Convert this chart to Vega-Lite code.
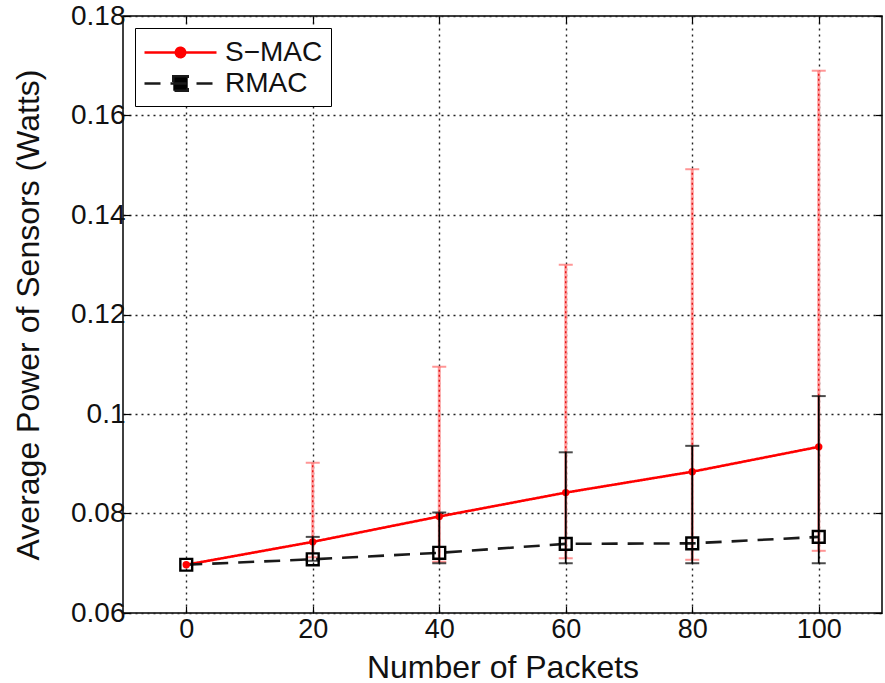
{
  "$schema": "https://vega.github.io/schema/vega-lite/v6.json",
  "width": 759,
  "height": 597,
  "autosize": {"type": "none"},
  "padding": {"left": 123, "top": 16, "right": 3, "bottom": 70},
  "background": "white",
  "config": {
    "view": {"stroke": "#000", "strokeWidth": 1.5},
    "font": "Liberation Sans"
  },
  "data": {
    "values": [
      {"n": 0, "series": "S−MAC", "mean": 0.0697, "lo": null, "hi": null},
      {"n": 20, "series": "S−MAC", "mean": 0.0743, "lo": 0.0712, "hi": 0.0902},
      {"n": 40, "series": "S−MAC", "mean": 0.0794, "lo": 0.0703, "hi": 0.1095},
      {"n": 60, "series": "S−MAC", "mean": 0.0842, "lo": 0.0710, "hi": 0.1300},
      {"n": 80, "series": "S−MAC", "mean": 0.0884, "lo": 0.0707, "hi": 0.1492},
      {"n": 100, "series": "S−MAC", "mean": 0.0934, "lo": 0.0725, "hi": 0.1690},
      {"n": 0, "series": "RMAC", "mean": 0.0697, "lo": null, "hi": null},
      {"n": 20, "series": "RMAC", "mean": 0.0708, "lo": 0.0705, "hi": 0.0753},
      {"n": 40, "series": "RMAC", "mean": 0.0721, "lo": 0.0700, "hi": 0.0802},
      {"n": 60, "series": "RMAC", "mean": 0.0739, "lo": 0.0700, "hi": 0.0923},
      {"n": 80, "series": "RMAC", "mean": 0.0740, "lo": 0.0700, "hi": 0.0936},
      {"n": 100, "series": "RMAC", "mean": 0.0753, "lo": 0.0700, "hi": 0.1036}
    ]
  },
  "resolve": {"axis": {"x": "independent", "y": "independent"}},
  "layer": [
    {
      "transform": [{"filter": "datum.series === 'S−MAC' && datum.lo != null"}],
      "mark": {"type": "rule", "color": "#ff9d9d", "strokeWidth": 3},
      "encoding": {
        "x": {"field": "n", "type": "quantitative", "scale": {"domain": [-10, 110], "nice": false, "zero": false},
          "axis": {"orient": "bottom", "values": [0, 20, 40, 60, 80, 100], "title": "Number of Packets", "grid": true, "gridColor": "#222", "gridDash": [2, 4], "gridWidth": 1.4, "gridOpacity": 1, "tickSize": -7, "tickColor": "#000", "tickWidth": 1.2, "domain": false, "labelFontSize": 27, "labelColor": "#111", "labelPadding": 10, "labelFont": "Liberation Sans", "titleFont": "Liberation Sans", "titleFontSize": 32, "titleFontWeight": "normal", "titleColor": "#111", "titlePadding": 10}},
        "y": {"field": "lo", "type": "quantitative", "scale": {"domain": [0.06, 0.18], "nice": false, "zero": false},
          "axis": {"orient": "left", "values": [0.06, 0.08, 0.1, 0.12, 0.14, 0.16, 0.18], "format": "~g", "title": "Average Power of Sensors (Watts)", "grid": true, "gridColor": "#222", "gridDash": [2, 4], "gridWidth": 1.4, "gridOpacity": 1, "tickSize": -7, "tickColor": "#000", "tickWidth": 1.2, "domain": false, "labelFontSize": 28, "labelColor": "#111", "labelPadding": 5, "labelFont": "Liberation Sans", "titleFont": "Liberation Sans", "titleFontSize": 32, "titleFontWeight": "normal", "titleColor": "#111", "titlePadding": 25}},
        "y2": {"field": "hi"}
      }
    },
    {
      "transform": [{"filter": "datum.series === 'S−MAC' && datum.lo != null"}],
      "mark": {"type": "rule", "color": "#e00000", "strokeWidth": 1.2, "strokeDash": [2, 3]},
      "encoding": {
        "x": {"field": "n", "type": "quantitative", "axis": {"orient": "top", "values": [0, 20, 40, 60, 80, 100], "labels": false, "title": null, "grid": false, "tickSize": -7, "tickColor": "#000", "tickWidth": 1.2, "domain": false}},
        "y": {"field": "lo", "type": "quantitative", "axis": {"orient": "right", "values": [0.06, 0.08, 0.1, 0.12, 0.14, 0.16, 0.18], "labels": false, "title": null, "grid": false, "tickSize": -7, "tickColor": "#000", "tickWidth": 1.2, "domain": false}},
        "y2": {"field": "hi"}
      }
    },
    {
      "transform": [{"filter": "datum.series === 'S−MAC' && datum.lo != null"}, {"fold": ["lo", "hi"], "as": ["end", "v"]}],
      "mark": {"type": "tick", "orient": "horizontal", "color": "#ff6a6a", "size": 14, "thickness": 2},
      "encoding": {
        "x": {"field": "n", "type": "quantitative", "axis": null},
        "y": {"field": "v", "type": "quantitative", "axis": null}
      }
    },
    {
      "mark": {"type": "line", "strokeWidth": 2.6},
      "encoding": {
        "x": {"field": "n", "type": "quantitative", "axis": null},
        "y": {"field": "mean", "type": "quantitative", "axis": null},
        "color": {"field": "series", "type": "nominal", "scale": {"domain": ["S−MAC", "RMAC"], "range": ["#ff0000", "#1a1a1a"]},
          "legend": {"orient": "top-left", "offset": 12, "title": null, "strokeColor": "#000", "fillColor": "white", "padding": 8, "rowPadding": 0, "labelFontSize": 28, "labelFont": "Liberation Sans", "labelColor": "#111", "labelOffset": 49, "symbolType": "stroke", "symbolSize": 900, "symbolStrokeWidth": 2.6,
            "encode": {"symbols": {"update": {
              "shape": {"signal": "datum.value === 'S−MAC' ? 'M-1,0L3.8,0M1.71,0A0.31,0.31,0,1,1,1.09,0A0.31,0.31,0,1,1,1.71,0Z' : 'M-1,0L3.8,0M0.92,-0.48L1.88,-0.48L1.88,0.48L0.92,0.48Z'"},
              "fill": {"signal": "datum.value === 'S−MAC' ? '#ff0000' : '#000000'"}
            }}}}},
        "strokeDash": {"field": "series", "type": "nominal", "scale": {"domain": ["S−MAC", "RMAC"], "range": [[1, 0], [16, 10]]}, "legend": null}
      }
    },
    {
      "transform": [{"filter": "datum.series === 'S−MAC'"}],
      "mark": {"type": "point", "shape": "circle", "filled": true, "color": "#ff0000", "size": 55, "opacity": 1},
      "encoding": {
        "x": {"field": "n", "type": "quantitative", "axis": null},
        "y": {"field": "mean", "type": "quantitative", "axis": null}
      }
    },
    {
      "transform": [{"filter": "datum.series === 'RMAC' && datum.lo != null"}],
      "mark": {"type": "rule", "color": "#000", "strokeWidth": 1.8},
      "encoding": {
        "x": {"field": "n", "type": "quantitative", "axis": null},
        "y": {"field": "lo", "type": "quantitative", "axis": null},
        "y2": {"field": "hi"}
      }
    },
    {
      "transform": [{"filter": "datum.series === 'RMAC' && datum.lo != null"}, {"fold": ["lo", "hi"], "as": ["end", "v"]}],
      "mark": {"type": "tick", "orient": "horizontal", "color": "#000", "size": 14, "thickness": 2},
      "encoding": {
        "x": {"field": "n", "type": "quantitative", "axis": null},
        "y": {"field": "v", "type": "quantitative", "axis": null}
      }
    },
    {
      "transform": [{"filter": "datum.series === 'RMAC'"}],
      "mark": {"type": "point", "shape": "square", "filled": false, "color": "#000", "size": 140, "strokeWidth": 2.4, "opacity": 1},
      "encoding": {
        "x": {"field": "n", "type": "quantitative", "axis": null},
        "y": {"field": "mean", "type": "quantitative", "axis": null}
      }
    }
  ]
}
